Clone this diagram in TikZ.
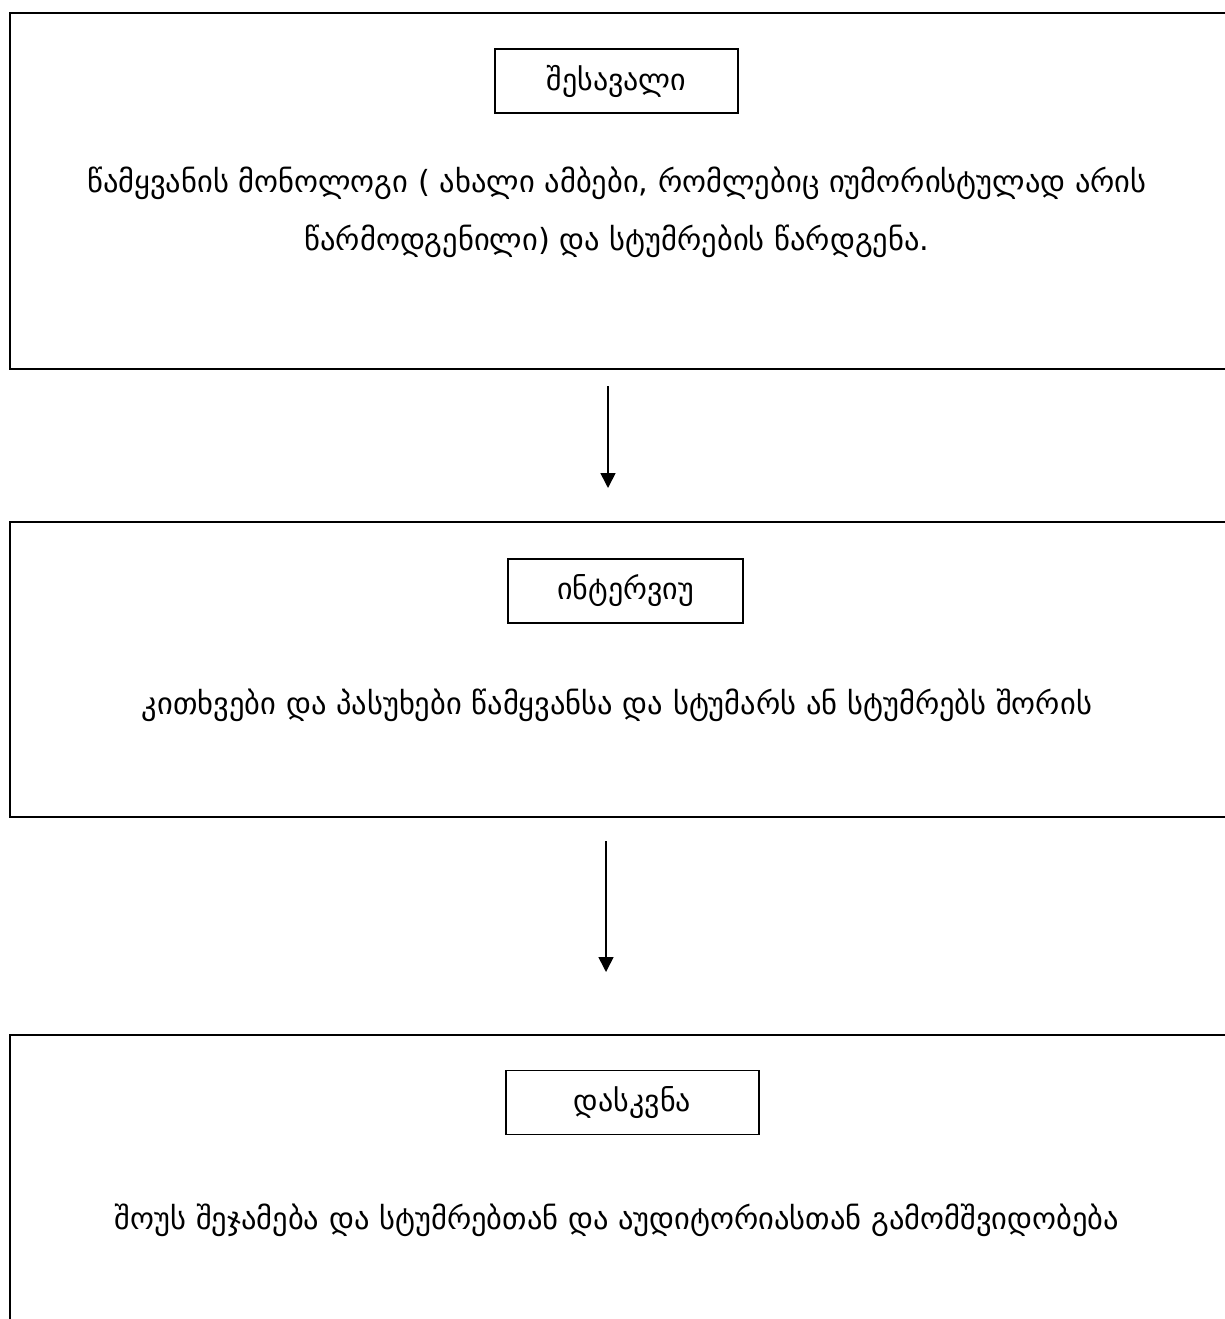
\documentclass[tikz,border=0pt]{standalone}
\usepackage{fontspec}
\setmainfont{DejaVu Sans}
\usetikzlibrary{arrows.meta}
\begin{document}
\begin{tikzpicture}[x=1pt,y=-1pt,
  bigbox/.style={draw,line width=2pt,inner sep=0pt,minimum width=1240pt,anchor=north west},
  titlebox/.style={draw,line width=1.4pt,inner sep=0pt,minimum height=64pt,font=\fontsize{30}{36}\selectfont},
  body/.style={inner sep=0pt,align=center,font=\fontsize{30.5}{58}\selectfont},
  arr/.style={-{Triangle[length=15pt,width=15pt]},line width=1.6pt}]
\useasboundingbox (0,0) rectangle (1225,1319);
\fill[white] (0,0) rectangle (1225,1319);
% big boxes
\node[bigbox,minimum height=356pt] (b1) at (9,12) {};
\node[bigbox,minimum height=295pt] (b2) at (9,521) {};
\node[bigbox,minimum height=400pt] (b3) at (9,1034) {};
% title boxes
\node[titlebox,minimum width=243pt] (t1) at (616.5,81) {შესავალი};
\node[titlebox,minimum width=235pt] (t2) at (625.5,591) {ინტერვიუ};
\node[titlebox,minimum width=253pt] (t3) at (632.5,1102.5) {დასკვნა};
% body texts
\node[body] (x1) at (617,212) {წამყვანის მონოლოგი ( ახალი ამბები, რომლებიც იუმორისტულად არის\\წარმოდგენილი) და სტუმრების წარდგენა.};
\node[body] (x2) at (617,705) {კითხვები და პასუხები წამყვანსა და სტუმარს ან სტუმრებს შორის};
\node[body] (x3) at (617,1220) {შოუს შეჯამება და სტუმრებთან და აუდიტორიასთან გამომშვიდობება};
% arrows
\coordinate (a1s) at (608,386);
\coordinate (a1e) at (608,488);
\coordinate (a2s) at (606,841);
\coordinate (a2e) at (606,972);
\draw[arr] (a1s) -- (a1e);
\draw[arr] (a2s) -- (a2e);
\end{tikzpicture}
\end{document}
